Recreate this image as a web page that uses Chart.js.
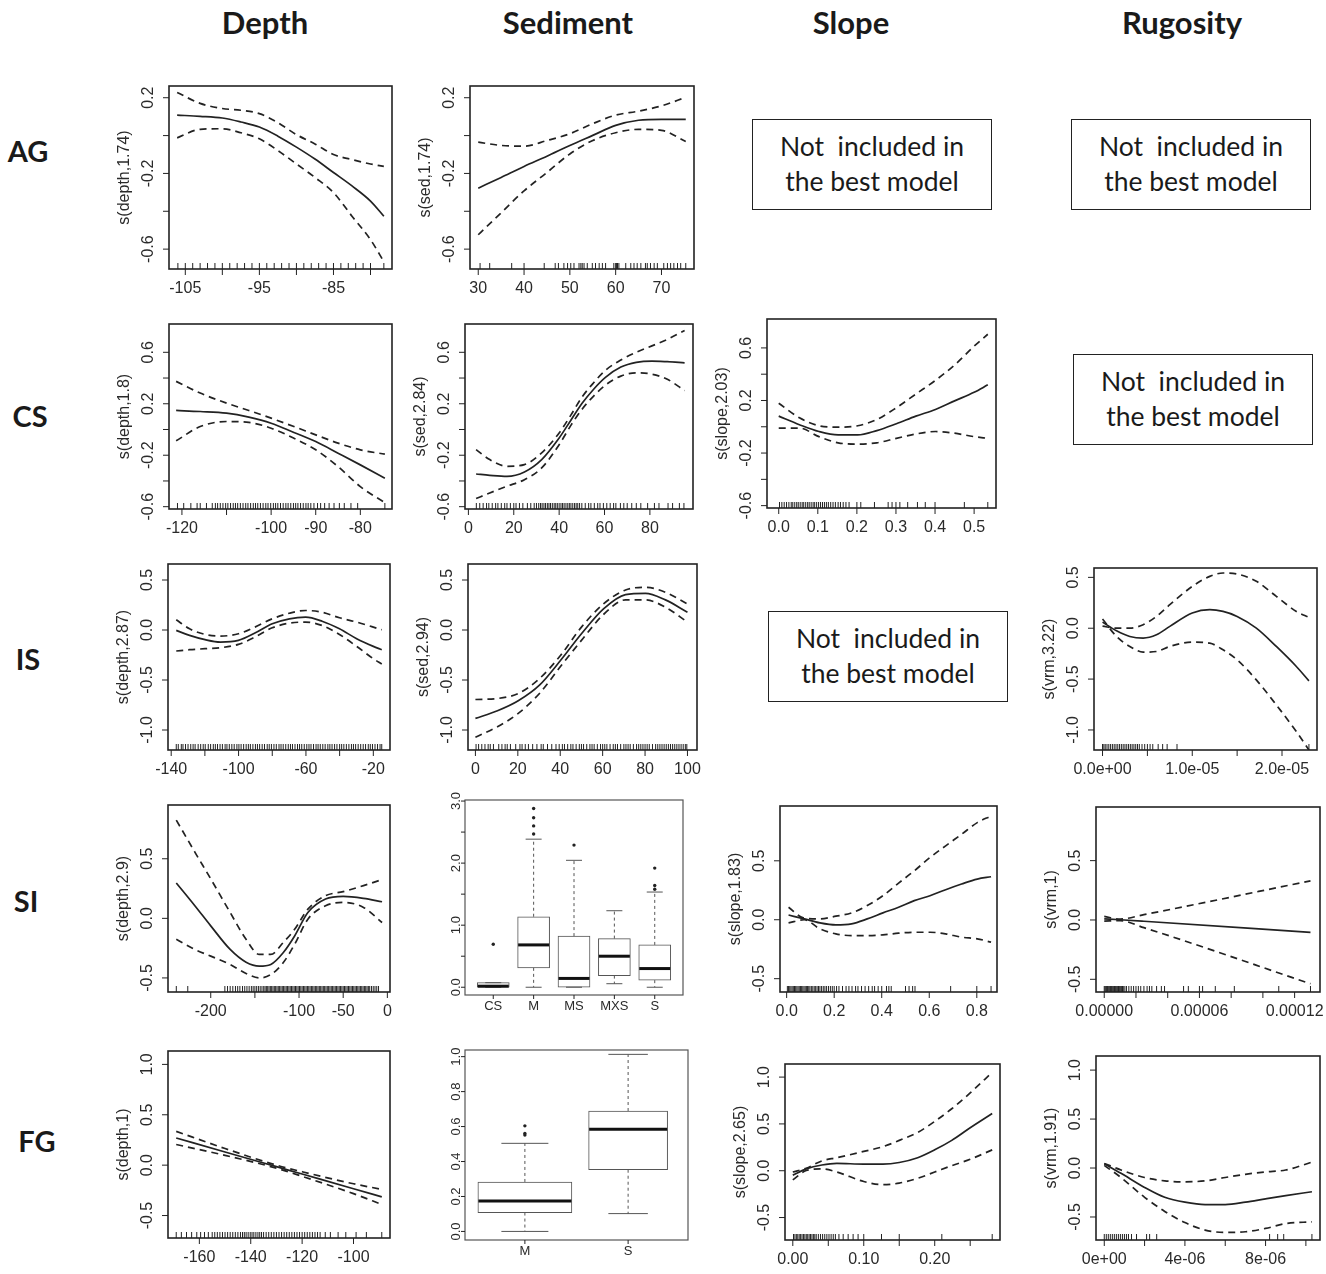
<!DOCTYPE html>
<html>
<head>
<meta charset="utf-8">
<script src="https://cdn.jsdelivr.net/npm/chart.js@4.4.1/dist/chart.umd.min.js"></script>
<style>
body { margin: 0; background: #fff; width: 1326px; height: 1274px; position: relative; overflow: hidden; font-family: Lato, "Open Sans", sans-serif; color: #1a1a1a; }
.hd { position: absolute; top: 3px; font-weight: bold; font-size: 31px; transform: translateX(-50%); white-space: nowrap; }
.rw { position: absolute; font-weight: bold; font-size: 29px; transform: translate(-50%, -50%); }
.nb { position: absolute; width: 240px; height: 91px; box-sizing: border-box; border: 1.5px solid #222; text-align: center; font-size: 26.5px; line-height: 35px; padding-top: 9px; white-space: pre; }
canvas { position: absolute; }
</style>
</head>
<body>
<div class="hd" style="left:265px">Depth</div>
<div class="hd" style="left:568px">Sediment</div>
<div class="hd" style="left:851px">Slope</div>
<div class="hd" style="left:1182px">Rugosity</div>
<div class="rw" style="left:28px;top:150px">AG</div>
<div class="rw" style="left:30px;top:415px">CS</div>
<div class="rw" style="left:28px;top:658px">IS</div>
<div class="rw" style="left:26px;top:900px">SI</div>
<div class="rw" style="left:37px;top:1140px">FG</div>
<div class="nb" style="left:752px;top:119px">Not  included in
the best model</div>
<div class="nb" style="left:1071px;top:119px">Not  included in
the best model</div>
<div class="nb" style="left:1073px;top:354px">Not  included in
the best model</div>
<div class="nb" style="left:768px;top:611px">Not  included in
the best model</div>
<script>
// ---- AG ----
const agDepthX = [-106.1, -103, -100, -97.5, -95, -92.5, -90, -87.5, -85, -82.5, -80, -78.2];
const agDepthFit = [0.108, 0.102, 0.093, 0.072, 0.045, -0.003, -0.061, -0.124, -0.195, -0.266, -0.346, -0.426];
const agDepthUp = [0.228, 0.170, 0.143, 0.134, 0.116, 0.068, 0.005, -0.044, -0.100, -0.127, -0.150, -0.163];
const agDepthLo = [-0.012, 0.033, 0.036, 0.015, -0.017, -0.079, -0.150, -0.221, -0.301, -0.426, -0.550, -0.666];
const agDepthRug = [-106, -105, -104, -103, -102, -101, -100, -99, -98, -97, -96, -95, -94, -93, -92, -91, -90, -89, -88, -87, -86, -85, -84, -83, -82, -81, -80, -78.2];
const agDepthXTicks = [-105, -100, -95, -90, -85, -80];
const agDepthXLabels = ['-105', '', '-95', '', '-85', ''];

const agSedX = [30, 35, 40, 45, 50, 55, 60, 65, 70, 75.3];
const agSedFit = [-0.278, -0.221, -0.163, -0.109, -0.052, 0.001, 0.054, 0.081, 0.086, 0.086];
const agSedUp = [-0.035, -0.052, -0.056, -0.026, 0.010, 0.063, 0.108, 0.129, 0.157, 0.202];
const agSedLo = [-0.524, -0.408, -0.292, -0.195, -0.097, -0.026, 0.015, 0.033, 0.028, -0.031];
const agSedRug = [30.4, 32.5, 37.3, 40, 44.4, 46.8, 47.5, 48.7, 49.5, 50.2, 50.9, 52, 52.4, 52.7, 53.1, 53.8, 54.9, 55.6, 56.4, 57.1, 57.8, 59.6, 60, 60.2, 60.4, 60.7, 62.2, 63.3, 64, 64.7, 65.5, 66.5, 66.9, 67.6, 68.4, 69.1, 70.5, 71.3, 72, 72.7, 73.5, 74.2, 75.3];
const agSedXTicks = [30, 40, 50, 60, 70];
const agSedXLabels = ['30', '40', '50', '60', '70'];

const agYTicks = [0.2, 0, -0.2, -0.4, -0.6];
const agYLabels = ['0.2', '', '-0.2', '', '-0.6'];

// ---- CS ----
const csDepthX = [-121.3, -115.9, -110, -105, -100, -94.9, -90, -85, -80, -74.5];
const csDepthFit = [0.148, 0.140, 0.127, 0.096, 0.049, -0.023, -0.094, -0.184, -0.275, -0.379];
const csDepthUp = [0.374, 0.283, 0.205, 0.148, 0.088, 0.023, -0.042, -0.106, -0.158, -0.192];
const csDepthLo = [-0.088, 0.023, 0.062, 0.055, 0.010, -0.068, -0.158, -0.288, -0.444, -0.569];
const csDepthRug = [-121, -119.6, -118, -116.6, -115.9, -114.5, -113.2, -112.5, -112, -111.4, -110.8, -110.2, -109.7, -109.1, -108.5, -108, -107.5, -106.9, -106.3, -105.7, -105.2, -104.6, -104, -103.5, -103, -102.4, -101.8, -101.2, -100.7, -100.1, -99.5, -99, -98.5, -97.9, -97.3, -96.7, -96.2, -95.6, -95, -94.5, -94, -93.4, -92.8, -92.2, -91.7, -91.1, -90.4, -89.6, -88.9, -88, -87, -85.9, -84.7, -83.6, -82.1, -80.6, -74.5];
const csDepthXTicks = [-120, -110, -100, -90, -80];
const csDepthXLabels = ['-120', '', '-100', '-90', '-80'];

const csSedX = [3.4, 9.4, 17, 24.7, 32.3, 40, 45.1, 50.2, 55.3, 60.4, 67.2, 74, 80.9, 87.7, 95.3];
const csSedFit = [-0.346, -0.356, -0.364, -0.330, -0.234, -0.066, 0.070, 0.205, 0.315, 0.405, 0.485, 0.522, 0.532, 0.527, 0.518];
const csSedUp = [-0.156, -0.234, -0.286, -0.273, -0.182, -0.027, 0.110, 0.255, 0.365, 0.460, 0.540, 0.600, 0.650, 0.700, 0.770];
const csSedLo = [-0.537, -0.493, -0.441, -0.390, -0.299, -0.118, 0.030, 0.160, 0.262, 0.345, 0.415, 0.440, 0.430, 0.390, 0.302];
const csSedRug = [3.5, 5, 6.5, 8, 9, 10.5, 12, 13, 14.5, 16, 17, 18.5, 20, 21, 22.5, 24, 26, 27.5, 29, 30, 31, 31.8, 32.5, 33.3, 34, 34.8, 35.5, 36.2, 37, 37.8, 38.5, 39.2, 40, 40.8, 41.5, 42.2, 43, 43.8, 44.5, 45.2, 46, 46.8, 47.5, 48.2, 49, 50, 51.5, 53, 54, 55.5, 57, 58, 59.5, 61, 62.5, 64, 65, 67, 68.5, 70, 72, 74, 76, 79, 82, 84, 88, 90, 93, 95];
const csSedXTicks = [0, 20, 40, 60, 80];
const csSedXLabels = ['0', '20', '40', '60', '80'];

const csSlopeX = [0, 0.053, 0.103, 0.152, 0.202, 0.251, 0.301, 0.351, 0.401, 0.450, 0.5, 0.535];
const csSlopeFit = [0.081, 0.016, -0.036, -0.062, -0.062, -0.029, 0.023, 0.081, 0.132, 0.197, 0.262, 0.319];
const csSlopeUp = [0.179, 0.068, 0.008, -0.003, 0.008, 0.055, 0.145, 0.249, 0.353, 0.470, 0.613, 0.704];
const csSlopeLo = [-0.010, -0.010, -0.075, -0.122, -0.132, -0.122, -0.088, -0.055, -0.036, -0.049, -0.075, -0.088];
const csSlopeRug = [0.002, 0.008, 0.014, 0.02, 0.026, 0.032, 0.036, 0.041, 0.046, 0.05, 0.055, 0.06, 0.064, 0.069, 0.074, 0.078, 0.083, 0.088, 0.092, 0.097, 0.102, 0.107, 0.112, 0.117, 0.122, 0.127, 0.133, 0.139, 0.145, 0.152, 0.158, 0.165, 0.172, 0.18, 0.2, 0.21, 0.245, 0.28, 0.29, 0.3, 0.31, 0.33, 0.355, 0.375, 0.4, 0.475, 0.535];
const csSlopeXTicks = [0, 0.1, 0.2, 0.3, 0.4, 0.5];
const csSlopeXLabels = ['0.0', '0.1', '0.2', '0.3', '0.4', '0.5'];

const csYTicks = [0.6, 0.4, 0.2, 0, -0.2, -0.4, -0.6];
const csYLabels = ['0.6', '', '0.2', '', '-0.2', '', '-0.6'];

// ---- IS ----
const isDepthX = [-137, -129.1, -119.9, -110.8, -100.1, -90.3, -80, -69.8, -60.2, -50.4, -40.1, -29.9, -20, -15];
const isDepthFit = [-0.004, -0.054, -0.097, -0.121, -0.104, -0.031, 0.062, 0.112, 0.128, 0.088, 0.012, -0.087, -0.164, -0.197];
const isDepthUp = [0.102, 0.012, -0.044, -0.061, -0.038, 0.029, 0.112, 0.168, 0.195, 0.178, 0.122, 0.079, 0.029, 0.002];
const isDepthLo = [-0.210, -0.197, -0.187, -0.177, -0.144, -0.071, 0.022, 0.069, 0.079, 0.045, -0.044, -0.164, -0.287, -0.340];
const isDepthRug = [-137, -135.8, -134, -133, -131.5, -130, -128.4, -127, -125.8, -124, -122.5, -121, -119.8, -118, -116.6, -115, -113.8, -112.5, -111, -109.6, -108, -106.9, -105.5, -104, -102.6, -101, -99.8, -98.5, -97, -95.5, -94.2, -93, -91.5, -90, -88.8, -87.5, -86, -84.6, -83, -81.8, -80.5, -79, -77.6, -76, -74.8, -73.5, -72, -70.5, -69.2, -68, -66.5, -65, -63.8, -62.5, -61, -59.5, -58.2, -57, -55.5, -54, -52.8, -51.5, -50, -48.6, -47, -45.8, -44.5, -43, -41.6, -40, -38.8, -37.5, -36, -34.5, -33, -31.8, -30.5, -29, -27.5, -26, -24.6, -23, -21.8, -20.5, -19, -17.5, -16, -15];
const isDepthXTicks = [-140, -120, -100, -80, -60, -40, -20];
const isDepthXLabels = ['-140', '', '-100', '', '-60', '', '-20'];

const isSedX = [0, 10.4, 20.2, 30.2, 40.2, 50, 60.4, 70.8, 80.2, 89.6, 100];
const isSedFit = [-0.884, -0.808, -0.708, -0.552, -0.303, -0.038, 0.211, 0.354, 0.367, 0.301, 0.178];
const isSedUp = [-0.695, -0.685, -0.635, -0.486, -0.253, 0.029, 0.261, 0.400, 0.427, 0.377, 0.261];
const isSedLo = [-1.073, -0.967, -0.834, -0.635, -0.363, -0.104, 0.155, 0.301, 0.301, 0.228, 0.079];
const isSedRug = [0.3, 1.5, 3, 4.5, 6, 7, 8.5, 11, 12.5, 14, 15, 16.5, 19, 21, 22, 23.5, 25, 27, 29, 31, 32, 34, 36, 38, 39.5, 41, 42, 43.5, 45, 46, 47.5, 49, 50, 51, 52.5, 54, 55, 56, 57.5, 59, 60, 61, 62, 63.5, 65, 66, 67, 68.5, 70, 71, 72, 73, 74.5, 76, 77, 78, 79, 80, 81, 82, 83.5, 85, 86, 87, 88, 89, 90, 91, 92, 93, 94, 95, 96, 97, 98, 99, 99.7];
const isSedXTicks = [0, 20, 40, 60, 80, 100];
const isSedXLabels = ['0', '20', '40', '60', '80', '100'];

const isYTicks = [0.5, 0, -0.5, -1];
const isYLabels = ['0.5', '0.0', '-0.5', '-1.0'];

const isVrmX = [0, 1.56e-6, 3.04e-6, 4.53e-6, 6.01e-6, 7.5e-6, 1.0e-5, 1.195e-5, 1.343e-5, 1.5e-5, 1.714e-5, 1.937e-5, 2.16e-5, 2.3e-5];
const isVrmFit = [0.06, -0.025, -0.081, -0.097, -0.065, 0.018, 0.149, 0.182, 0.165, 0.116, 0.001, -0.179, -0.376, -0.517];
const isVrmUp = [0.02, 0.001, 0.001, 0.034, 0.116, 0.231, 0.411, 0.510, 0.543, 0.533, 0.461, 0.313, 0.165, 0.106];
const isVrmLo = [0.09, -0.081, -0.179, -0.235, -0.229, -0.179, -0.137, -0.147, -0.212, -0.311, -0.508, -0.754, -1.016, -1.197];
const isVrmRug = [0, 1.5e-7, 3e-7, 5e-7, 7e-7, 9e-7, 1.1e-6, 1.3e-6, 1.5e-6, 1.7e-6, 1.9e-6, 2.1e-6, 2.3e-6, 2.5e-6, 2.7e-6, 2.9e-6, 3.1e-6, 3.3e-6, 3.5e-6, 3.7e-6, 3.9e-6, 4.1e-6, 4.4e-6, 4.7e-6, 5e-6, 5.3e-6, 5.6e-6, 6.2e-6, 6.7e-6, 7.2e-6, 8.3e-6, 2.3e-5];
const isVrmXTicks = [0, 5e-6, 1e-5, 1.5e-5, 2e-5];
const isVrmXLabels = ['0.0e+00', '', '1.0e-05', '', '2.0e-05'];

// ---- SI ----
const siDepthX = [-239, -218, -200, -178, -160, -145, -132, -118, -105, -90, -70, -50, -27, -6];
const siDepthFit = [0.297, 0.106, -0.063, -0.261, -0.368, -0.401, -0.387, -0.289, -0.148, 0.049, 0.162, 0.184, 0.168, 0.139];
const siDepthUp = [0.824, 0.556, 0.331, 0.049, -0.176, -0.303, -0.303, -0.204, -0.092, 0.077, 0.190, 0.224, 0.275, 0.325];
const siDepthLo = [-0.176, -0.261, -0.317, -0.387, -0.463, -0.500, -0.472, -0.373, -0.218, -0.007, 0.106, 0.134, 0.092, -0.035];
const siDepthRug = [-239, -226, -184, -181, -178, -175, -172, -169.5, -167, -164, -161.5, -159, -156.5, -154, -152, -150, -148, -146, -144, -142, -140, -138.5, -137, -135.5, -134, -132.5, -131, -129.5, -128, -126.5, -125, -123.5, -122, -120.5, -119, -117.5, -116, -114.5, -113, -111.5, -110, -108.5, -107, -105.5, -104, -102.5, -101, -99.5, -98, -96.5, -95, -93.5, -92, -90.5, -89, -87.5, -86, -84.5, -83, -81.5, -80, -78.5, -77, -75.5, -74, -72.5, -71, -69.5, -68, -66.5, -65, -63.5, -62, -60.5, -59, -57.5, -56, -54.5, -53, -51.5, -50, -48.5, -47, -45.5, -44, -42.5, -41, -39.5, -38, -36.5, -35, -33.5, -32, -30.5, -29, -27.5, -26, -24.5, -23, -21.5, -20, -18, -16, -14, -12, -10];
const siDepthXTicks = [-200, -150, -100, -50, 0];
const siDepthXLabels = ['-200', '', '-100', '-50', '0'];

const siSlopeX = [0.008, 0.074, 0.140, 0.207, 0.273, 0.339, 0.405, 0.471, 0.537, 0.603, 0.669, 0.736, 0.802, 0.860];
const siSlopeFit = [0.040, 0.007, -0.027, -0.044, -0.035, 0.007, 0.058, 0.106, 0.162, 0.204, 0.255, 0.303, 0.345, 0.365];
const siSlopeUp = [0.106, 0.013, 0.007, 0.030, 0.058, 0.120, 0.204, 0.311, 0.415, 0.528, 0.627, 0.725, 0.824, 0.880];
const siSlopeLo = [-0.027, 0.000, -0.077, -0.120, -0.134, -0.134, -0.128, -0.114, -0.106, -0.106, -0.120, -0.148, -0.162, -0.190];
const siSlopeRug = [0.003, 0.008, 0.013, 0.018, 0.023, 0.028, 0.033, 0.038, 0.043, 0.048, 0.053, 0.058, 0.063, 0.068, 0.073, 0.078, 0.083, 0.088, 0.093, 0.098, 0.104, 0.11, 0.116, 0.122, 0.128, 0.134, 0.14, 0.147, 0.154, 0.161, 0.168, 0.176, 0.184, 0.192, 0.2, 0.21, 0.22, 0.235, 0.25, 0.262, 0.275, 0.29, 0.3, 0.315, 0.33, 0.345, 0.36, 0.37, 0.385, 0.4, 0.42, 0.43, 0.44, 0.5, 0.515, 0.53, 0.54, 0.69, 0.8, 0.86];
const siSlopeXTicks = [0, 0.2, 0.4, 0.6, 0.8];
const siSlopeXLabels = ['0.0', '0.2', '0.4', '0.6', '0.8'];

const siVrmX = [0, 1e-5, 2.5e-5, 1.3e-4];
const siVrmFit = [0.010, 0.002, -0.011, -0.105];
const siVrmUp = [0.030, 0.008, 0.045, 0.330];
const siVrmLo = [-0.010, -0.006, -0.065, -0.537];
const siVrmRug = [0, 0.05e-5, 0.1e-5, 0.15e-5, 0.2e-5, 0.25e-5, 0.3e-5, 0.35e-5, 0.4e-5, 0.45e-5, 0.5e-5, 0.55e-5, 0.6e-5, 0.65e-5, 0.7e-5, 0.75e-5, 0.8e-5, 0.85e-5, 0.9e-5, 0.95e-5, 1.0e-5, 1.05e-5, 1.1e-5, 1.15e-5, 1.2e-5, 1.3e-5, 1.4e-5, 1.55e-5, 1.7e-5, 1.85e-5, 2.0e-5, 2.15e-5, 2.3e-5, 2.5e-5, 2.7e-5, 2.85e-5, 3.0e-5, 3.3e-5, 3.6e-5, 3.8e-5, 5.0e-5, 5.3e-5, 6.0e-5, 6.2e-5, 7.0e-5, 8.2e-5, 11e-5, 13e-5];
const siVrmXTicks = [0, 2e-5, 4e-5, 6e-5, 8e-5, 1e-4, 1.2e-4];
const siVrmXLabels = ['0.00000', '', '', '0.00006', '', '', '0.00012'];

const siYTicks = [0.5, 0, -0.5];
const siYLabels = ['0.5', '0.0', '-0.5'];

const siSedCats = ['CS', 'M', 'MS', 'MXS', 'S'];
const siSedQ1 = [0, 0.3125, 0, 0.1875, 0.114];
const siSedMed = [0.017, 0.682, 0.142, 0.5, 0.301];
const siSedQ3 = [0.074, 1.136, 0.824, 0.784, 0.682];
const siSedLow = [0, 0, 0, 0.057, 0];
const siSedHigh = [0.074, 2.386, 2.045, 1.233, 1.534];
const siSedOut = [[0.693], [2.47, 2.6, 2.73, 2.88], [2.29], [], [1.58, 1.64, 1.92]];
const siSedYTicks = [0, 0.5, 1, 1.5, 2, 2.5, 3];
const siSedYLabels = ['0.0', '', '1.0', '', '2.0', '', '3.0'];

// ---- FG ----
const fgDepthX = [-169, -150, -130, -120, -100, -89];
const fgDepthFit = [0.27, 0.131, -0.015, -0.088, -0.234, -0.315];
const fgDepthUp = [0.335, 0.165, 0.0, -0.065, -0.185, -0.24];
const fgDepthLo = [0.205, 0.097, -0.03, -0.111, -0.283, -0.39];
const fgDepthRug = [-169, -167, -165, -163, -161, -159.5, -158, -156.5, -155, -154, -153, -152, -151, -150, -149, -148, -147, -146, -145, -144, -143.2, -142.5, -141.8, -141, -140.2, -139.5, -138.8, -138, -137.2, -136.5, -135.8, -135, -134, -133, -132, -131, -130, -129, -128, -127, -126, -125, -124, -123, -122, -121, -120, -119, -118, -117, -116, -115, -114, -113, -111, -109, -106, -103, -99, -95, -89];
const fgDepthXTicks = [-160, -140, -120, -100];
const fgDepthXLabels = ['-160', '-140', '-120', '-100'];

const fgSlopeX = [0, 0.019, 0.041, 0.062, 0.1, 0.127, 0.150, 0.176, 0.2, 0.224, 0.25, 0.281];
const fgSlopeFit = [-0.047, 0.020, 0.061, 0.078, 0.071, 0.071, 0.088, 0.139, 0.223, 0.324, 0.459, 0.611];
const fgSlopeUp = [-0.014, 0.027, 0.105, 0.139, 0.206, 0.257, 0.324, 0.409, 0.527, 0.662, 0.831, 1.051];
const fgSlopeLo = [-0.098, 0.003, 0.020, -0.014, -0.115, -0.149, -0.132, -0.081, -0.014, 0.054, 0.122, 0.223];
const fgSlopeRug = [0.001, 0.003, 0.005, 0.007, 0.009, 0.011, 0.013, 0.015, 0.017, 0.019, 0.021, 0.023, 0.025, 0.027, 0.029, 0.031, 0.033, 0.036, 0.039, 0.042, 0.045, 0.048, 0.051, 0.054, 0.057, 0.06, 0.065, 0.071, 0.078, 0.085, 0.092, 0.1, 0.125, 0.15, 0.21, 0.281];
const fgSlopeXTicks = [0, 0.05, 0.1, 0.15, 0.2, 0.25];
const fgSlopeXLabels = ['0.00', '', '0.10', '', '0.20', ''];

const fgVrmX = [0, 0.83e-6, 2e-6, 3e-6, 4e-6, 5e-6, 6e-6, 7e-6, 8e-6, 9e-6, 1.03e-5];
const fgVrmFit = [0.044, -0.054, -0.198, -0.299, -0.349, -0.373, -0.373, -0.349, -0.315, -0.282, -0.242];
const fgVrmUp = [0.047, -0.020, -0.097, -0.131, -0.141, -0.131, -0.097, -0.064, -0.040, -0.020, 0.060];
const fgVrmLo = [0.027, -0.097, -0.299, -0.443, -0.557, -0.634, -0.658, -0.651, -0.617, -0.567, -0.550];
const fgVrmRug = [0, 0.1e-6, 0.2e-6, 0.3e-6, 0.4e-6, 0.5e-6, 0.6e-6, 0.7e-6, 0.8e-6, 0.9e-6, 1.0e-6, 1.1e-6, 1.2e-6, 1.35e-6, 1.6e-6, 2.1e-6, 2.25e-6, 2.6e-6, 8.2e-6, 8.6e-6, 8.9e-6, 1.03e-5];
const fgVrmXTicks = [0, 2e-6, 4e-6, 6e-6, 8e-6, 1e-5];
const fgVrmXLabels = ['0e+00', '', '4e-06', '', '8e-06', ''];

const fgYTicks = [1, 0.5, 0, -0.5];
const fgYLabels = ['1.0', '0.5', '0.0', '-0.5'];

const fgSedCats = ['M', 'S'];
const fgSedQ1 = [0.108, 0.353];
const fgSedMed = [0.174, 0.585];
const fgSedQ3 = [0.283, 0.689];
const fgSedLow = [0, 0.102];
const fgSedHigh = [0.504, 1.013];
const fgSedOut = [[0.551, 0.56, 0.604], []];
const fgSedYTicks = [0, 0.2, 0.4, 0.6, 0.8, 1.0];
const fgSedYLabels = ['0.0', '0.2', '0.4', '0.6', '0.8', '1.0'];

// ---- drawing ----
const PAD = { left: 78, top: 12, right: 12, bottom: 40 };
const INK = '#222';

// R-like frame, ticks, rug and labels, placed through the chart's own scales
const rAxes = {
  id: 'rAxes',
  afterDatasetsDraw(chart, args, o) {
    const { ctx, chartArea: a } = chart;
    const xs = chart.scales.x, ys = chart.scales.y;
    ctx.save();
    ctx.strokeStyle = o.frame;
    ctx.lineWidth = o.frameWidth;
    ctx.strokeRect(a.left, a.top, a.right - a.left, a.bottom - a.top);
    ctx.lineWidth = 1;
    ctx.strokeStyle = INK;
    ctx.beginPath();
    (o.rug || []).forEach(v => {
      const p = xs.getPixelForValue(v);
      ctx.moveTo(p, a.bottom); ctx.lineTo(p, a.bottom - 6);
    });
    o.xTicks.forEach(v => {
      const p = xs.getPixelForValue(v);
      ctx.moveTo(p, a.bottom); ctx.lineTo(p, a.bottom + o.tickLen);
    });
    o.yTicks.forEach(v => {
      const p = ys.getPixelForValue(v);
      ctx.moveTo(a.left, p); ctx.lineTo(a.left - o.tickLen, p);
    });
    ctx.stroke();
    ctx.fillStyle = '#2a2a2a';
    ctx.font = o.font;
    ctx.textAlign = 'center';
    ctx.textBaseline = 'middle';
    o.xTicks.forEach((v, i) => {
      if (o.xLabels[i]) ctx.fillText(o.xLabels[i], xs.getPixelForValue(v), a.bottom + o.xGap);
    });
    o.yTicks.forEach((v, i) => {
      if (!o.yLabels[i]) return;
      ctx.save();
      ctx.translate(a.left - o.yGap, ys.getPixelForValue(v));
      ctx.rotate(-Math.PI / 2);
      ctx.fillText(o.yLabels[i], 0, 0);
      ctx.restore();
    });
    if (o.ylab) {
      ctx.save();
      ctx.translate(a.left - 44, (a.top + a.bottom) / 2);
      ctx.rotate(-Math.PI / 2);
      ctx.fillText(o.ylab, 0, 0);
      ctx.restore();
    }
    ctx.restore();
  }
};

function makeCanvas(b) {
  const c = document.createElement('canvas');
  const w = b[2] - b[0] + PAD.left + PAD.right;
  const h = b[3] - b[1] + PAD.top + PAD.bottom;
  c.width = w; c.height = h;
  c.style.left = (b[0] - PAD.left) + 'px';
  c.style.top = (b[1] - PAD.top) + 'px';
  c.style.width = w + 'px'; c.style.height = h + 'px';
  document.body.appendChild(c);
  return c;
}

function pts(xs, ys) { return xs.map((x, i) => ({ x: x, y: ys[i] })); }

function baseOptions(p, axes) {
  return {
    responsive: false, animation: false, events: [],
    layout: { padding: PAD, autoPadding: false },
    scales: {
      x: { type: 'linear', min: p.xlim[0], max: p.xlim[1], display: false, offset: false },
      y: { type: 'linear', min: p.ylim[0], max: p.ylim[1], display: false }
    },
    plugins: { legend: { display: false }, tooltip: { enabled: false }, rAxes: axes }
  };
}

function gamChart(p) {
  const line = { borderColor: INK, borderWidth: 1.7, pointRadius: 0, fill: false, cubicInterpolationMode: 'monotone' };
  new Chart(makeCanvas(p.box), {
    type: 'line',
    data: { datasets: [
      Object.assign({ data: pts(p.x, p.fit) }, line),
      Object.assign({ data: pts(p.x, p.up), borderDash: [7, 5] }, line),
      Object.assign({ data: pts(p.x, p.lo), borderDash: [7, 5] }, line)
    ] },
    options: baseOptions(p, {
      frame: INK, frameWidth: 1.6, tickLen: 6, font: '16px "Liberation Sans", Arial, sans-serif',
      xGap: 20, yGap: 20, rug: p.rug, xTicks: p.xt, xLabels: p.xl, yTicks: p.yt, yLabels: p.yl, ylab: p.ylab
    }),
    plugins: [rAxes]
  });
}

function boxChart(p) {
  const n = p.cats.length;
  const idx = p.cats.map((c, i) => i + 1);
  const datasets = [];
  idx.forEach((x, i) => {
    datasets.push({ type: 'bar', data: [{ x: x, y: [p.q1[i], p.q3[i]] }], barThickness: p.widths[i],
      backgroundColor: '#fff', borderColor: '#555', borderWidth: 1, borderSkipped: false, grouped: false, order: 5 });
  });
  const whisk = [];
  idx.forEach((x, i) => {
    whisk.push({ x: x, y: p.q3[i] }, { x: x, y: p.high[i] }, { x: x, y: null });
    whisk.push({ x: x, y: p.q1[i] }, { x: x, y: p.low[i] }, { x: x, y: null });
  });
  datasets.push({ type: 'line', data: whisk, borderColor: '#555', borderWidth: 1, borderDash: [3, 3], pointRadius: 0, spanGaps: false, order: 4 });
  const caps = [];
  const capR = [];
  idx.forEach((x, i) => {
    caps.push({ x: x, y: p.low[i] }, { x: x, y: p.high[i] });
    capR.push(p.widths[i] / 4, p.widths[i] / 4);
  });
  datasets.push({ type: 'scatter', data: caps, pointStyle: 'line', pointRadius: capR, borderColor: '#555', borderWidth: 1, order: 3 });
  const outs = [];
  p.out.forEach((arr, i) => arr.forEach(v => outs.push({ x: idx[i], y: v })));
  datasets.push({ type: 'scatter', data: outs, pointStyle: 'circle', pointRadius: 1.7, backgroundColor: '#222', borderColor: '#222', borderWidth: 0, order: 2 });
  datasets.push({ type: 'scatter', data: pts(idx, p.med), pointStyle: 'line', pointRadius: p.widths.map(w => w / 2 - 0.5), borderColor: '#111', borderWidth: 3, order: 1 });
  const xl = [0.5 - 0.04 * n, n + 0.5 + 0.04 * n];
  new Chart(makeCanvas(p.box), {
    type: 'scatter',
    data: { datasets: datasets },
    options: baseOptions({ xlim: xl, ylim: p.ylim }, {
      frame: '#555', frameWidth: 1.2, tickLen: 4, font: '13px "Liberation Sans", Arial, sans-serif',
      xGap: 11, yGap: 9, xTicks: idx, xLabels: p.cats, yTicks: p.yt, yLabels: p.yl
    }),
    plugins: [rAxes]
  });
}

gamChart({ box: [169, 86, 392, 269], x: agDepthX, fit: agDepthFit, up: agDepthUp, lo: agDepthLo, rug: agDepthRug,
  xlim: [-107.2, -77.1], ylim: [-0.705, 0.262], xt: agDepthXTicks, xl: agDepthXLabels, yt: agYTicks, yl: agYLabels, ylab: 's(depth,1.74)' });
gamChart({ box: [470, 86, 694, 269], x: agSedX, fit: agSedFit, up: agSedUp, lo: agSedLo, rug: agSedRug,
  xlim: [28.2, 77.1], ylim: [-0.705, 0.262], xt: agSedXTicks, xl: agSedXLabels, yt: agYTicks, yl: agYLabels, ylab: 's(sed,1.74)' });

gamChart({ box: [169, 324, 392, 509], x: csDepthX, fit: csDepthFit, up: csDepthUp, lo: csDepthLo, rug: csDepthRug,
  xlim: [-122.9, -72.9], ylim: [-0.618, 0.82], xt: csDepthXTicks, xl: csDepthXLabels, yt: csYTicks, yl: csYLabels, ylab: 's(depth,1.8)' });
gamChart({ box: [465, 324, 693, 509], x: csSedX, fit: csSedFit, up: csSedUp, lo: csSedLo, rug: csSedRug,
  xlim: [-1.5, 99], ylim: [-0.618, 0.82], xt: csSedXTicks, xl: csSedXLabels, yt: csYTicks, yl: csYLabels, ylab: 's(sed,2.84)' });
gamChart({ box: [767, 319, 996, 508], x: csSlopeX, fit: csSlopeFit, up: csSlopeUp, lo: csSlopeLo, rug: csSlopeRug,
  xlim: [-0.03, 0.556], ylim: [-0.618, 0.82], xt: csSlopeXTicks, xl: csSlopeXLabels, yt: csYTicks, yl: csYLabels, ylab: 's(slope,2.03)' });

gamChart({ box: [168, 564, 390, 750], x: isDepthX, fit: isDepthFit, up: isDepthUp, lo: isDepthLo, rug: isDepthRug,
  xlim: [-141.9, -10.1], ylim: [-1.2, 0.66], xt: isDepthXTicks, xl: isDepthXLabels, yt: isYTicks, yl: isYLabels, ylab: 's(depth,2.87)' });
gamChart({ box: [468, 564, 697, 750], x: isSedX, fit: isSedFit, up: isSedUp, lo: isSedLo, rug: isSedRug,
  xlim: [-3.5, 104.5], ylim: [-1.2, 0.66], xt: isSedXTicks, xl: isSedXLabels, yt: isYTicks, yl: isYLabels, ylab: 's(sed,2.94)' });
gamChart({ box: [1094, 568, 1317, 750], x: isVrmX, fit: isVrmFit, up: isVrmUp, lo: isVrmLo, rug: isVrmRug,
  xlim: [-0.95e-6, 2.39e-5], ylim: [-1.197, 0.592], xt: isVrmXTicks, xl: isVrmXLabels, yt: isYTicks, yl: isYLabels, ylab: 's(vrm,3.22)' });

gamChart({ box: [168, 805, 390, 992], x: siDepthX, fit: siDepthFit, up: siDepthUp, lo: siDepthLo, rug: siDepthRug,
  xlim: [-248.4, 3], ylim: [-0.618, 0.951], xt: siDepthXTicks, xl: siDepthXLabels, yt: siYTicks, yl: siYLabels, ylab: 's(depth,2.9)' });
boxChart({ box: [465, 800, 683, 995], cats: siSedCats, q1: siSedQ1, med: siSedMed, q3: siSedQ3, low: siSedLow, high: siSedHigh,
  out: siSedOut, widths: [32, 32, 32, 32, 32], ylim: [-0.125, 3.017], yt: siSedYTicks, yl: siSedYLabels });
gamChart({ box: [780, 806, 997, 992], x: siSlopeX, fit: siSlopeFit, up: siSlopeUp, lo: siSlopeLo, rug: siSlopeRug,
  xlim: [-0.028, 0.885], ylim: [-0.613, 0.965], xt: siSlopeXTicks, xl: siSlopeXLabels, yt: siYTicks, yl: siYLabels, ylab: 's(slope,1.83)' });
gamChart({ box: [1096, 807, 1320, 992], x: siVrmX, fit: siVrmFit, up: siVrmUp, lo: siVrmLo, rug: siVrmRug,
  xlim: [-5.2e-6, 1.36e-4], ylim: [-0.607, 0.952], xt: siVrmXTicks, xl: siVrmXLabels, yt: siYTicks, yl: siYLabels, ylab: 's(vrm,1)' });

gamChart({ box: [168, 1051, 390, 1238], x: fgDepthX, fit: fgDepthFit, up: fgDepthUp, lo: fgDepthLo, rug: fgDepthRug,
  xlim: [-172.2, -85.8], ylim: [-0.723, 1.133], xt: fgDepthXTicks, xl: fgDepthXLabels, yt: fgYTicks, yl: fgYLabels, ylab: 's(depth,1)' });
boxChart({ box: [465, 1050, 688, 1240], cats: fgSedCats, q1: fgSedQ1, med: fgSedMed, q3: fgSedQ3, low: fgSedLow, high: fgSedHigh,
  out: fgSedOut, widths: [94, 79], ylim: [-0.049, 1.038], yt: fgSedYTicks, yl: fgSedYLabels });
gamChart({ box: [785, 1064, 1000, 1240], x: fgSlopeX, fit: fgSlopeFit, up: fgSlopeUp, lo: fgSlopeLo, rug: fgSlopeRug,
  xlim: [-0.011, 0.292], ylim: [-0.74, 1.14], xt: fgSlopeXTicks, xl: fgSlopeXLabels, yt: fgYTicks, yl: fgYLabels, ylab: 's(slope,2.65)' });
gamChart({ box: [1096, 1056, 1320, 1240], x: fgVrmX, fit: fgVrmFit, up: fgVrmUp, lo: fgVrmLo, rug: fgVrmRug,
  xlim: [-4.1e-7, 1.07e-5], ylim: [-0.735, 1.144], xt: fgVrmXTicks, xl: fgVrmXLabels, yt: fgYTicks, yl: fgYLabels, ylab: 's(vrm,1.91)' });
</script>
</body>
</html>
